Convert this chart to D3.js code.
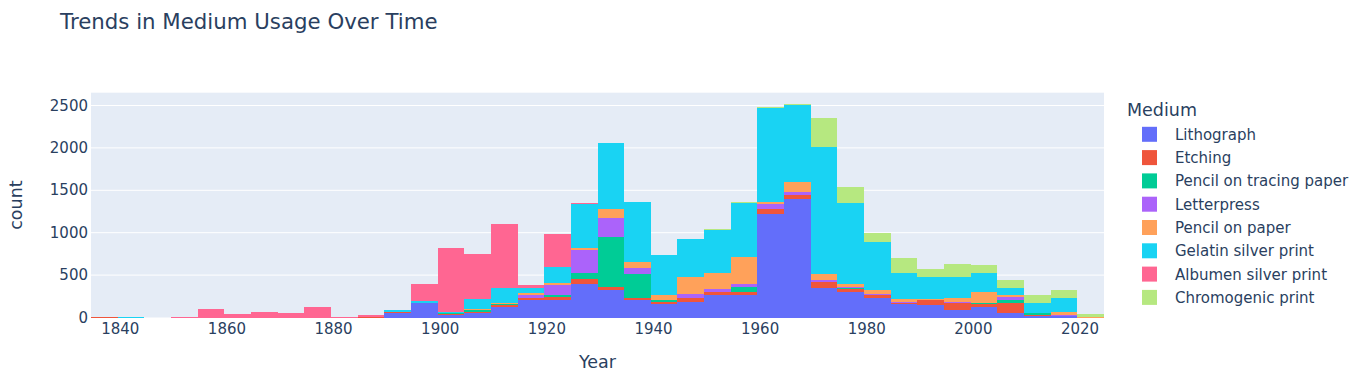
<!DOCTYPE html>
<html>
<head>
<meta charset="utf-8">
<script src="https://cdn.jsdelivr.net/npm/d3@7"></script>
<style>
  body { margin: 0; background: #fff; }
  text { font-family: "DejaVu Sans", Verdana, sans-serif; fill: #2a3f5f; }
</style>
</head>
<body>
<svg id="chart" width="1350" height="387"></svg>
<script>
// bin left edges (5 year bins)
var binStarts = [1834.5, 1839.5, 1844.5, 1849.5, 1854.5, 1859.5, 1864.5, 1869.5, 1874.5, 1879.5,
                 1884.5, 1889.5, 1894.5, 1899.5, 1904.5, 1909.5, 1914.5, 1919.5, 1924.5, 1929.5,
                 1934.5, 1939.5, 1944.5, 1949.5, 1954.5, 1959.5, 1964.5, 1969.5, 1974.5, 1979.5,
                 1984.5, 1989.5, 1994.5, 1999.5, 2004.5, 2009.5, 2014.5, 2019.5];
var binWidth = 5;

var media = ["Lithograph", "Etching", "Pencil on tracing paper", "Letterpress",
             "Pencil on paper", "Gelatin silver print", "Albumen silver print", "Chromogenic print"];
var colors = ["#636efa", "#EF553B", "#00cc96", "#ab63fa", "#FFA15A", "#19d3f3", "#FF6692", "#B6E880"];

var lithograph   = [0,0,0,0,0,0,0,0,0,0, 0,50,167,24,49,120,210,210,399,328, 210,163,187,265,265,1220,1397,344,301,234, 159,143,92,124,53,12,12,0];
var etching      = [6,0,0,0,0,0,0,0,0,0, 5,14,8,20,16,24,24,28,55,31, 24,24,47,35,31,59,47,71,35,28, 12,63,79,31,118,16,0,0];
var pencilTrace  = [0,0,0,0,0,0,0,0,0,0, 0,0,0,5,24,16,0,28,71,590, 283,24,0,0,63,0,0,0,12,0, 0,0,0,16,35,20,0,0];
var letterpress  = [0,0,0,0,0,0,0,0,0,0, 0,0,0,0,0,0,31,118,275,228, 71,0,47,35,35,55,35,28,8,16, 16,0,16,0,35,0,20,0];
var pencilPaper  = [0,0,0,0,0,0,0,0,0,0, 0,0,0,0,16,12,24,24,24,102, 71,55,197,189,318,24,118,71,40,47, 31,12,47,134,24,0,35,8];
var gelatin      = [0,6,0,0,0,0,0,0,0,0, 0,24,16,20,114,181,63,189,515,778, 704,472,448,507,637,1112,908,1498,955,566, 307,259,244,220,83,122,165,0];
var albumen      = [0,0,0,8,100,41,69,57,124,6, 24,0,204,755,530,750,31,388,12,0, 0,0,0,0,0,0,0,0,0,0, 0,0,0,0,0,0,0,0];
var chromogenic  = [0,0,0,0,0,0,0,0,0,0, 0,0,0,0,0,0,0,0,0,0, 0,0,0,12,12,12,12,342,185,106, 177,94,153,94,94,94,94,31];

var seriesValues = [lithograph, etching, pencilTrace, letterpress, pencilPaper, gelatin, albumen, chromogenic];

var xTicks = [1840, 1860, 1880, 1900, 1920, 1940, 1960, 1980, 2000, 2020];
var yTicks = [0, 500, 1000, 1500, 2000, 2500];

drawChart();

//Draws the stacked histogram, axes and legend
function drawChart() {
    // build rows for d3.stack
    var rows = binStarts.map(function(b, i) {
        var row = {start: b};
        media.forEach(function(m, j) { row[m] = seriesValues[j][i]; });
        return row;
    });

    var svg = d3.select("#chart");
    var plotLeft = 91, plotRight = 1104, plotTop = 92.7, plotBottom = 317.5;

    var x = d3.scaleLinear().domain([1834.5, 2024.5]).range([plotLeft, plotRight]);
    var y = d3.scaleLinear().domain([0, 2651]).range([plotBottom, plotTop]);

    // plot background
    svg.append("rect")
       .attr("x", plotLeft).attr("y", plotTop)
       .attr("width", plotRight - plotLeft).attr("height", plotBottom - plotTop)
       .attr("fill", "#E5ECF6");

    // horizontal grid
    svg.append("g").selectAll("line")
       .data(yTicks.slice(1))
       .enter().append("line")
       .attr("x1", plotLeft).attr("x2", plotRight)
       .attr("y1", function(d) { return y(d); })
       .attr("y2", function(d) { return y(d); })
       .attr("stroke", "#fff").attr("stroke-width", 1);

    // stacked bars
    var stacked = d3.stack().keys(media)(rows);
    var layers = svg.append("g")
       .attr("shape-rendering", "crispEdges")
       .selectAll("g")
       .data(stacked)
       .enter().append("g")
       .attr("fill", function(d, i) { return colors[i]; });

    layers.selectAll("rect")
       .data(function(d) { return d.filter(function(s) { return s[1] - s[0] > 0; }); })
       .enter().append("rect")
       .attr("x", function(d) { return x(d.data.start); })
       .attr("width", function(d) { return x(d.data.start + binWidth) - x(d.data.start); })
       .attr("y", function(d) { return y(d[1]); })
       .attr("height", function(d) { return y(d[0]) - y(d[1]); });

    // y axis labels
    svg.append("g").selectAll("text")
       .data(yTicks)
       .enter().append("text")
       .attr("x", 88)
       .attr("y", function(d) { return y(d) + 5; })
       .attr("text-anchor", "end")
       .style("font-size", "15px")
       .text(function(d) { return d; });

    // x axis labels
    svg.append("g").selectAll("text")
       .data(xTicks)
       .enter().append("text")
       .attr("x", function(d) { return x(d); })
       .attr("y", 334)
       .attr("text-anchor", "middle")
       .style("font-size", "15px")
       .text(function(d) { return d; });

    // axis titles
    svg.append("text")
       .attr("x", (plotLeft + plotRight) / 2).attr("y", 368)
       .attr("text-anchor", "middle")
       .style("font-size", "17.5px")
       .text("Year");

    svg.append("text")
       .attr("transform", "translate(22," + ((plotTop + plotBottom) / 2) + ") rotate(-90)")
       .attr("text-anchor", "middle")
       .style("font-size", "17.5px")
       .text("count");

    // title
    svg.append("text")
       .attr("x", 60).attr("y", 29)
       .style("font-size", "21.3px")
       .text("Trends in Medium Usage Over Time");

    // legend
    var legend = svg.append("g");
    legend.append("text")
       .attr("x", 1127).attr("y", 116)
       .style("font-size", "17.5px")
       .text("Medium");

    var items = legend.selectAll("g.item")
       .data(media)
       .enter().append("g")
       .attr("class", "item")
       .attr("transform", function(d, i) { return "translate(0," + (134.3 + i * 23.3) + ")"; });

    items.append("rect")
       .attr("x", 1142).attr("y", -7.5)
       .attr("width", 15).attr("height", 15)
       .attr("fill", function(d, i) { return colors[i]; });

    items.append("text")
       .attr("x", 1175).attr("y", 5.5)
       .style("font-size", "15px")
       .text(function(d) { return d; });
}
</script>
</body>
</html>
